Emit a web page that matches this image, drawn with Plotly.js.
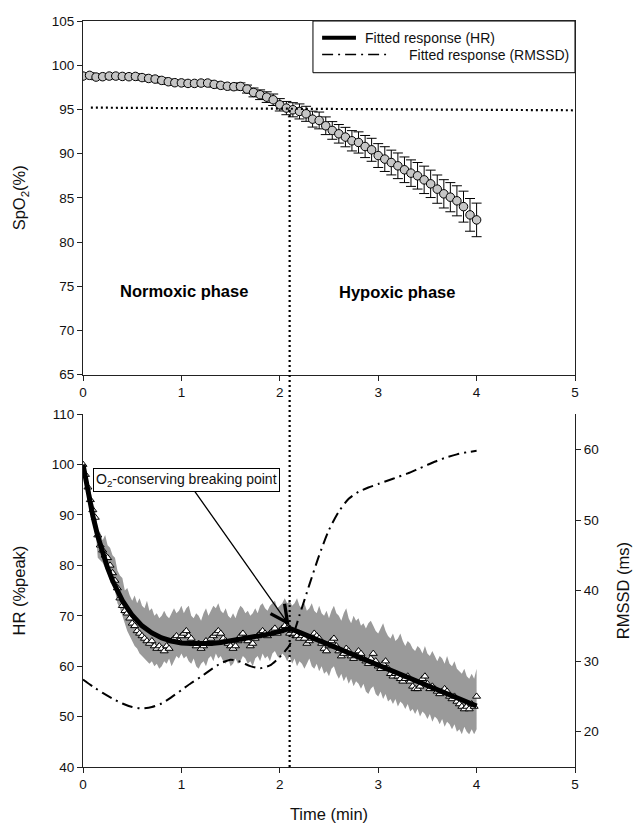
<!DOCTYPE html>
<html>
<head>
<meta charset="utf-8">
<script src="https://cdn.plot.ly/plotly-3.0.1.min.js"></script>
<style>
  html, body { margin: 0; padding: 0; background: #ffffff; }
  #chart { width: 633px; height: 824px; }
</style>
</head>
<body>
<div id="chart"></div>
<script>
// ---------- SpO2 (top panel) ----------
var spo2Time = [0.000,0.067,0.133,0.200,0.267,0.333,0.400,0.467,0.533,0.600,
                0.667,0.733,0.800,0.867,0.933,1.000,1.067,1.133,1.200,1.267,
                1.333,1.400,1.467,1.533,1.600,1.667,1.733,1.800,1.867,1.933,
                2.000,2.067,2.133,2.200,2.267,2.333,2.400,2.467,2.533,2.600,
                2.667,2.733,2.800,2.867,2.933,3.000,3.067,3.133,3.200,3.267,
                3.333,3.400,3.467,3.533,3.600,3.667,3.733,3.800,3.867,3.933,4.000];
var spo2Mean = [98.77,98.85,98.66,98.70,98.77,98.77,98.73,98.70,98.73,98.60,
                98.50,98.43,98.28,98.13,98.02,98.00,97.94,97.94,97.98,97.98,
                97.83,97.72,97.62,97.57,97.60,97.30,96.92,96.66,96.39,96.09,
                95.52,95.15,94.96,94.77,94.50,93.90,93.75,93.15,92.62,92.24,
                91.87,91.45,91.26,90.80,90.43,89.78,89.38,88.99,88.62,88.17,
                87.79,87.49,87.03,86.58,85.98,85.45,85.07,84.66,84.00,83.07,82.50];
var spo2Err  = [0.30,0.30,0.30,0.30,0.30,0.30,0.30,0.30,0.30,0.30,
                0.30,0.30,0.30,0.30,0.30,0.30,0.30,0.30,0.30,0.30,
                0.30,0.30,0.30,0.35,0.40,0.45,0.50,0.55,0.60,0.65,
                0.70,0.75,0.80,0.85,0.85,0.90,0.95,1.00,1.00,1.05,
                1.10,1.15,1.20,1.25,1.30,1.35,1.40,1.40,1.45,1.45,
                1.50,1.50,1.55,1.55,1.60,1.60,1.65,1.70,1.75,1.85,1.90];

// ---------- HR (bottom panel) ----------
var hrTime = [0.000,0.025,0.050,0.075,0.100,0.125,0.150,0.175,0.200,0.225,
              0.250,0.275,0.300,0.325,0.350,0.375,0.400,0.425,0.450,0.475,
              0.500,0.525,0.550,0.575,0.600,0.625,0.650,0.675,0.700,0.725,
              0.750,0.775,0.800,0.825,0.850,0.875,0.900,0.925,0.950,0.975,
              1.000,1.025,1.050,1.075,1.100,1.125,1.150,1.175,1.200,1.225,
              1.250,1.275,1.300,1.325,1.350,1.375,1.400,1.425,1.450,1.475,
              1.500,1.525,1.550,1.575,1.600,1.625,1.650,1.675,1.700,1.725,
              1.750,1.775,1.800,1.825,1.850,1.875,1.900,1.925,1.950,1.975,
              2.000,2.025,2.050,2.075,2.100,2.125,2.150,2.175,2.200,2.225,
              2.250,2.275,2.300,2.325,2.350,2.375,2.400,2.425,2.450,2.475,
              2.500,2.525,2.550,2.575,2.600,2.625,2.650,2.675,2.700,2.725,
              2.750,2.775,2.800,2.825,2.850,2.875,2.900,2.925,2.950,2.975,
              3.000,3.025,3.050,3.075,3.100,3.125,3.150,3.175,3.200,3.225,
              3.250,3.275,3.300,3.325,3.350,3.375,3.400,3.425,3.450,3.475,
              3.500,3.525,3.550,3.575,3.600,3.625,3.650,3.675,3.700,3.725,
              3.750,3.775,3.800,3.825,3.850,3.875,3.900,3.925,3.950,3.975,4.000];
var hrMean = [100,98,95.5,93,91,89.5,86,84,83,82,
              81.5,80,78.5,77,75.5,73.5,72,71,70.5,69.5,
              68.5,68,67,66.5,66,65.5,65,64.5,65,64,
              63.5,64,63.5,63,64,63.5,65,65.5,66,65,
              66,66.5,67,66,65.5,64.5,64,64.5,63.5,64,
              65,64.5,65.5,66,66.5,67,66.5,65.5,65,64.5,
              64,63.5,64,65,66,66.5,65.5,65,64,64.5,
              65.5,66,66.5,67,66.5,66,66.5,67,67.5,66.5,
              67,67.5,68,67.5,66.5,67,66.5,66,65.5,66,
              65.5,64.5,65,65.5,66.5,66,65.5,64.5,63.5,63,
              64,65,65.5,64,63,62,62.5,63.5,63,62,
              61.5,62,63,62.5,61.5,61,60.5,61.5,62.5,61,
              60,59.5,60.5,61,59.5,58.5,58,58.5,58,57.5,
              57,57.5,58,57,56,55.5,55.5,56,57.5,58,
              56.5,55.5,56,55.5,55,54.5,55,55.5,55,54,
              53.5,54,53,52.5,52,51.5,52,51.5,52.5,52,54];
var hrUpper = [100.5,99,97,94.5,92.5,91,87,86.5,85,86,
               84,83.5,82,81.5,79,78,77.5,75,75.5,74,
               73,74,72.5,73.5,72,71.5,73,71,71.5,70,
               70.5,69.5,70,71,70,69.5,70.5,71.5,70.5,71,
               72,70.5,71.5,72,70,69.5,70.5,70,69,70.5,
               71.5,70,71,72,71.5,72.5,71,70.5,71.5,70,
               69.5,70.5,69.5,71,72,71.5,70.5,71,70,70.5,
               71.5,70.5,72,72.5,71.5,71,72,72.5,73,71.5,
               72,72.5,73.5,72.5,73,72,72.5,73.5,72,71.5,
               72.5,71,71.5,72.5,71,70.5,72,70.5,70,71,
               69.5,71,72,70.5,70,69,70.5,71.5,69.5,68.5,
               70,69,69.5,68,68.5,67.5,68.5,69,68,67,
               66.5,67.5,68.5,67,66,65.5,66.5,65,65.5,66.5,
               65,64,65,64.5,63.5,63,64,63.5,62.5,64,
               62.5,62,63,62,61,62,61.5,60.5,62,60.5,
               60,61,59.5,59,58.5,59.5,58,57.5,58.5,57.5,59.5];
var hrLower = [99.5,97,94,91.5,89.5,88,81.5,81,80.5,79.5,
               78.5,77,76,75,72.5,71.5,70,68.5,67,66,
               65,64,63.5,62.5,62,61.5,61,60.5,61,60,
               60.5,59.5,60,61,60.5,61.5,60,61,62,61.5,
               62.5,61.5,62,61,60.5,61.5,60,59.5,60.5,61,
               60,61.5,62,61,62.5,61.5,62,61,60.5,61.5,
               60,60.5,61.5,60.5,61,62,61.5,60.5,61,60,
               61.5,62,61,62.5,61.5,62,61,62.5,63,62,
               61.5,62.5,62,61,62,60.5,61.5,60,61,60.5,
               59.5,60.5,61.5,60,59.5,60.5,59,60,58.5,59,
               58,59.5,60,58.5,57.5,58.5,57,58,56.5,57.5,
               56,57,56.5,55.5,56.5,55,54.5,55.5,56,54.5,
               54,55,53.5,54.5,53,53.5,52.5,53.5,52,53,
               52.5,51.5,52.5,51,51.5,50.5,51.5,50,51,50.5,
               49.5,50.5,49,50,49.5,48.5,49.5,48,49,48.5,
               47.5,48.5,47,47.5,46.5,48,47,46.5,47.5,46.5,47.5];

// fitted HR response
var fitHrTime = [0,0.05,0.1,0.15,0.2,0.25,0.3,0.4,0.5,0.6,0.7,0.8,0.9,1.0,1.1,1.2,1.3,1.4,1.5,1.6,1.7,1.8,1.9,2.0,2.1,
                 2.2,2.3,2.4,2.5,2.6,2.7,2.8,2.9,3.0,3.1,3.2,3.3,3.4,3.5,3.6,3.7,3.8,3.9,4.0];
var fitHr = [100,94.5,89.8,85.8,82.3,79.5,77,73,70.1,68,66.6,65.6,65,64.6,64.5,64.4,64.5,64.7,65,65.3,65.6,66,66.4,66.9,67.5,
             66.7,65.9,65.1,64.2,63.4,62.6,61.8,61.0,60.2,59.4,58.6,57.8,57.0,56.2,55.4,54.6,53.7,52.9,52.1];

// fitted RMSSD response (right axis)
var fitRmTime = [0,0.1,0.2,0.3,0.4,0.5,0.6,0.7,0.8,0.9,1.0,1.1,1.2,1.3,1.4,1.5,1.6,1.7,1.8,1.9,2.0,
                 2.1,2.2,2.3,2.4,2.5,2.6,2.7,2.8,2.9,3.0,3.1,3.2,3.3,3.4,3.5,3.6,3.7,3.8,3.9,4.0];
var fitRmssd = [27.4,26.4,25.5,24.7,24.0,23.5,23.3,23.5,24.0,24.9,25.9,26.9,27.8,28.8,29.7,30.2,29.9,29.3,29.0,29.4,30.6,
                32.3,36.5,40.8,45.0,48.6,51.2,53.0,54.0,54.6,55.1,55.6,56.1,56.6,57.2,57.8,58.4,58.9,59.3,59.6,59.8];

// axis ticks
var xTicks = [0,1,2,3,4,5];
var spo2Ticks = [65,70,75,80,85,90,95,100,105];
var hrTicks = [40,50,60,70,80,90,100,110];
var rmTicks = [20,30,40,50,60];

// ---------- layout constants ----------
var FONT = '"Liberation Sans", Arial, sans-serif';
var AX = '#222222';
var TXT = '#111111';
var topDom = [0.526, 1];
var botDom = [0, 0.473];
function paperTop(v) { return topDom[0] + (v - 65) / 40 * (topDom[1] - topDom[0]); }

var traces = [
  // SpO2
  { x: spo2Time, y: spo2Mean, xaxis: 'x', yaxis: 'y', type: 'scatter', mode: 'markers',
    marker: { symbol: 'circle', size: 8.5, color: '#c6c6c6', line: { color: '#000', width: 1 } },
    error_y: { type: 'data', array: spo2Err, visible: true, color: '#000', thickness: 1, width: 5 },
    showlegend: false, hoverinfo: 'skip' },
  // HR SD band
  { x: hrTime, y: hrLower, xaxis: 'x2', yaxis: 'y2', type: 'scatter', mode: 'lines',
    line: { width: 0, color: '#999' }, showlegend: false, hoverinfo: 'skip' },
  { x: hrTime, y: hrUpper, xaxis: 'x2', yaxis: 'y2', type: 'scatter', mode: 'lines',
    line: { width: 0, color: '#999' }, fill: 'tonexty', fillcolor: '#9a9a9a', showlegend: false, hoverinfo: 'skip' },
  // HR mean triangles
  { x: hrTime, y: hrMean, xaxis: 'x2', yaxis: 'y2', type: 'scatter', mode: 'markers',
    marker: { symbol: 'triangle-up', size: 7, color: '#ffffff', line: { color: '#000', width: 1 } },
    showlegend: false, hoverinfo: 'skip' },
  // fitted HR
  { x: fitHrTime, y: fitHr, xaxis: 'x2', yaxis: 'y2', type: 'scatter', mode: 'lines',
    line: { color: '#000', width: 5 }, name: 'Fitted response (HR)', showlegend: false },
  // fitted RMSSD
  { x: fitRmTime, y: fitRmssd, xaxis: 'x2', yaxis: 'y3', type: 'scatter', mode: 'lines',
    line: { color: '#000', width: 2, dash: '11px,5px,2px,5px', shape: 'spline', smoothing: 0.6 },
    name: 'Fitted response (RMSSD)', showlegend: false }
];

var axisCommon = {
  showline: true, linecolor: AX, linewidth: 1, ticks: 'outside', ticklen: 5, tickwidth: 1, tickcolor: AX,
  showgrid: false, zeroline: false, tickfont: { family: FONT, size: 13.5, color: TXT }
};
var titleFont = { family: FONT, size: 16.5, color: TXT };

var layout = {
  width: 633, height: 824,
  margin: { l: 83, r: 58, t: 21, b: 57 },
  paper_bgcolor: '#ffffff', plot_bgcolor: 'rgba(0,0,0,0)',
  showlegend: false,
  font: { family: FONT, color: TXT },
  xaxis: Object.assign({}, axisCommon, { domain: [0, 1], range: [0, 5], anchor: 'y', tickvals: xTicks, mirror: true }),
  yaxis: Object.assign({}, axisCommon, { domain: topDom, range: [65, 105], anchor: 'x', tickvals: spo2Ticks, mirror: true,
    title: { text: 'SpO<sub>2</sub>(%)', font: titleFont, standoff: 21 } }),
  xaxis2: Object.assign({}, axisCommon, { domain: [0, 1], range: [0, 5], anchor: 'y2', tickvals: xTicks,
    title: { text: 'Time (min)', font: titleFont, standoff: 17 } }),
  yaxis2: Object.assign({}, axisCommon, { domain: botDom, range: [40, 110], anchor: 'x2', tickvals: hrTicks,
    title: { text: 'HR (%peak)', font: titleFont, standoff: 21 } }),
  yaxis3: Object.assign({}, axisCommon, { overlaying: 'y2', side: 'right', anchor: 'x2', range: [15, 65], tickvals: rmTicks,
    title: { text: 'RMSSD (ms)', font: titleFont, standoff: 19 } }),
  shapes: [
    // horizontal dotted line at breaking SpO2
    { type: 'line', xref: 'x', yref: 'y', x0: 0.08, x1: 5, y0: 95.2, y1: 94.9,
      line: { color: '#000', width: 2.2, dash: '2px,3px' } },
    // vertical dotted line at breaking point time
    { type: 'line', xref: 'x', yref: 'paper', x0: 2.1, x1: 2.1, y0: 0, y1: paperTop(95.1),
      line: { color: '#000', width: 2.2, dash: '2px,3px' } },
    // legend box
    { type: 'rect', xref: 'x', yref: 'y', x0: 2.337, x1: 5.0, y0: 99.15, y1: 105,
      line: { color: '#000', width: 1 }, fillcolor: '#ffffff' },
    { type: 'line', xref: 'x', yref: 'y', x0: 2.43, x1: 2.774, y0: 103.1, y1: 103.1,
      line: { color: '#000', width: 4 } },
    { type: 'line', xref: 'x', yref: 'y', x0: 2.43, x1: 3.08, y0: 101.2, y1: 101.2,
      line: { color: '#000', width: 1.5, dash: '11px,5px,2px,5px' } }
  ],
  annotations: [
    { xref: 'x', yref: 'y', x: 2.845, y: 103.1, xanchor: 'left', yanchor: 'middle', showarrow: false,
      text: 'Fitted response (HR)', font: { family: FONT, size: 14, color: TXT } },
    { xref: 'x', yref: 'y', x: 3.293, y: 101.2, xanchor: 'left', yanchor: 'middle', showarrow: false,
      text: 'Fitted response (RMSSD)', font: { family: FONT, size: 14, color: TXT } },
    { xref: 'x', yref: 'y', x: 1.03, y: 74.5, showarrow: false,
      text: '<b>Normoxic phase</b>', font: { family: FONT, size: 16.5, color: '#000' } },
    { xref: 'x', yref: 'y', x: 3.19, y: 74.4, showarrow: false,
      text: '<b>Hypoxic phase</b>', font: { family: FONT, size: 16.5, color: '#000' } },
    // breaking point label with arrow
    { xref: 'x2', yref: 'y2', x: 2.1, y: 68, showarrow: true, ax: -103, ay: -146,
      arrowhead: 5, arrowsize: 2.6, arrowwidth: 1.3, arrowcolor: '#000',
      text: 'O<sub>2</sub>-conserving breaking point', font: { family: FONT, size: 14, color: TXT },
      bordercolor: '#000', borderwidth: 1, borderpad: 2, bgcolor: '#ffffff' }
  ]
};

Plotly.newPlot('chart', traces, layout, { displayModeBar: false, staticPlot: true });
</script>
</body>
</html>
